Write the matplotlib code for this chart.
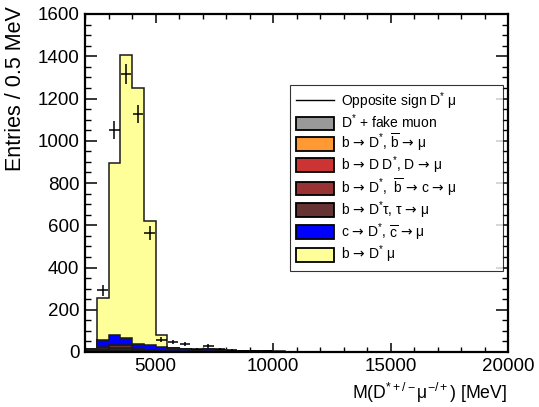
import numpy as np
import matplotlib
matplotlib.use("Agg")
import matplotlib.pyplot as plt
from matplotlib.patches import Patch
from matplotlib.lines import Line2D

plt.rcParams['font.family'] = ['Liberation Sans', 'DejaVu Sans']
plt.rcParams['mathtext.fontset'] = 'custom'
plt.rcParams['mathtext.rm'] = 'Liberation Sans'
plt.rcParams['mathtext.it'] = 'Liberation Sans:italic'
plt.rcParams['mathtext.bf'] = 'Liberation Sans:bold'
plt.rcParams['mathtext.sf'] = 'DejaVu Sans'

# Binning of M(D* mu) in MeV
bin_lo = 2000
bin_hi = 20000
bin_width = 500

# Stacked MC components (entries per bin), bottom to top
fake_muon = [8, 2, 2, 2, 1, 1, 1, 1, 1, 1, 1, 1, 0, 0, 0, 0, 0, 0,
             0, 0, 0, 0, 0, 0, 0, 0, 0, 0, 0, 0, 0, 0, 0, 0, 0, 0]
b_bbar = [1, 2, 3, 3, 2, 1, 1, 1, 0, 0, 0, 0, 0, 0, 0, 0, 0, 0,
          0, 0, 0, 0, 0, 0, 0, 0, 0, 0, 0, 0, 0, 0, 0, 0, 0, 0]
b_DD = [2, 6, 5, 5, 3, 2, 1, 1, 1, 0, 0, 0, 0, 0, 0, 0, 0, 0,
        0, 0, 0, 0, 0, 0, 0, 0, 0, 0, 0, 0, 0, 0, 0, 0, 0, 0]
b_bbar_c = [1, 5, 8, 8, 4, 3, 2, 1, 1, 1, 1, 0, 0, 0, 0, 0, 0, 0,
            0, 0, 0, 0, 0, 0, 0, 0, 0, 0, 0, 0, 0, 0, 0, 0, 0, 0]
b_tau = [0, 10, 16, 14, 5, 3, 2, 1, 1, 0, 1, 0, 0, 0, 0, 0, 0, 0,
         0, 0, 0, 0, 0, 0, 0, 0, 0, 0, 0, 0, 0, 0, 0, 0, 0, 0]
c_cbar = [0, 33, 45, 36, 21, 22, 15, 13, 11, 7, 11, 8, 6, 5, 4, 3, 2, 2,
          1, 2, 1, 1, 1, 2, 1, 1, 0, 1, 0, 1, 0, 0, 1, 0, 0, 0]
b_signal = [0, 197, 815, 1339, 1213, 589, 60, 0, 0, 1, 1, 1, 1, 1, 1, 1, 1, 0,
            0, 0, 0, 0, 0, 0, 0, 0, 0, 0, 0, 0, 0, 0, 0, 0, 0, 0]

# Opposite-sign data with uncertainties
data = [0, 292, 1049, 1317, 1128, 563, 58, 47, 36, 13, 28, 14, 9, 6, 5, 3, 2, 2,
        1, 1, 1, 0, 1, 0, 1, 0, 0, 0, 0, 0, 0, 0, 0, 0, 0, 0]
data_err = [0, 25, 43, 47, 42, 33, 11, 10, 9, 5, 8, 6, 4, 4, 3, 2, 2, 2,
            1, 1, 1, 0, 1, 0, 1, 0, 0, 0, 0, 0, 0, 0, 0, 0, 0, 0]

A = r"$\mathsf{→}$"
labels = [
    "Opposite sign D$^{*}$ μ",
    "D$^{*}$ + fake muon",
    r"b " + A + r" D$^{*}$, $\overline{\mathrm{b}}$ " + A + " μ",
    "b " + A + " D D$^{*}$, D " + A + " μ",
    r"b " + A + r" D$^{*}$,  $\overline{\mathrm{b}}$ " + A + " c " + A + " μ",
    "b " + A + " D$^{*}$τ, τ " + A + " μ",
    r"c " + A + r" D$^{*}$, $\overline{\mathrm{c}}$ " + A + " μ",
    "b " + A + " D$^{*}$ μ",
]
colors = ["#999999", "#ff9933", "#cc3333", "#993333", "#663333", "#0000ff", "#ffff99"]

edges = np.arange(bin_lo, bin_hi + bin_width, bin_width)
centers = 0.5 * (edges[:-1] + edges[1:])

fig = plt.figure(figsize=(5.39, 4.07), dpi=100)
ax = fig.add_axes([85 / 539, 1 - 352 / 407, 423 / 539, 338 / 407])

components = [fake_muon, b_bbar, b_DD, b_bbar_c, b_tau, c_cbar, b_signal]
base = np.zeros(len(centers))
for vals, col in zip(components, colors):
    vals = np.asarray(vals, dtype=float)
    ax.stairs(base + vals, edges, baseline=base.copy(), fill=True,
              facecolor=col, edgecolor="#1a1a1a", linewidth=1.1, zorder=2)
    base = base + vals

d = np.asarray(data, dtype=float)
e = np.asarray(data_err, dtype=float)
m = d > 0
ax.errorbar(centers[m], d[m], xerr=bin_width / 2 * 0.9, yerr=e[m], fmt='none',
            ecolor='black', elinewidth=1.1, capsize=0, zorder=3)

ax.set_xlim(bin_lo, bin_hi)
ax.set_ylim(0, 1600)
ax.set_xticks([5000, 10000, 15000, 20000])
ax.set_xticks(np.arange(2000, 20001, 1000), minor=True)
ax.set_yticks(np.arange(0, 1601, 200))
ax.set_yticks(np.arange(0, 1601, 50), minor=True)

for s in ax.spines.values():
    s.set_linewidth(1.6)
ax.tick_params(axis='x', which='major', direction='in', top=True, length=6.5, width=1.1,
               labelsize=13.5, pad=4)
ax.tick_params(axis='x', which='minor', direction='in', top=True, length=3.5, width=1.0)
ax.tick_params(axis='y', which='major', direction='in', right=True, length=8.5, width=1.1,
               labelsize=13.5, pad=4)
ax.tick_params(axis='y', which='minor', direction='in', right=True, length=4.5, width=1.0)

fig.text(507 / 539, 1 - 405 / 407, "M(D$^{*+/-}$μ$^{-/+}$) [MeV]", ha='right', va='bottom',
         fontsize=12.7)
fig.text(16 / 539, 1 - 6 / 407, "Entries / 0.5 MeV", ha='center', va='top',
         rotation=90, fontsize=15.5)

handles = [Line2D([], [], color='black', lw=1.0)]
handles += [Patch(facecolor=c, edgecolor='black', linewidth=1.3) for c in colors]
leg = ax.legend(handles, labels, loc='upper left',
                bbox_to_anchor=(205 / 423, 264 / 338, 213 / 423, 0.01), mode='expand',
                borderaxespad=0, fontsize=10, frameon=True, fancybox=False,
                handlelength=2.8, handleheight=1.15, labelspacing=0.06,
                handletextpad=0.45, borderpad=0.4)
leg.get_frame().set_edgecolor('black')
leg.get_frame().set_linewidth(0.8)

fig.savefig("out.png", dpi=100)
